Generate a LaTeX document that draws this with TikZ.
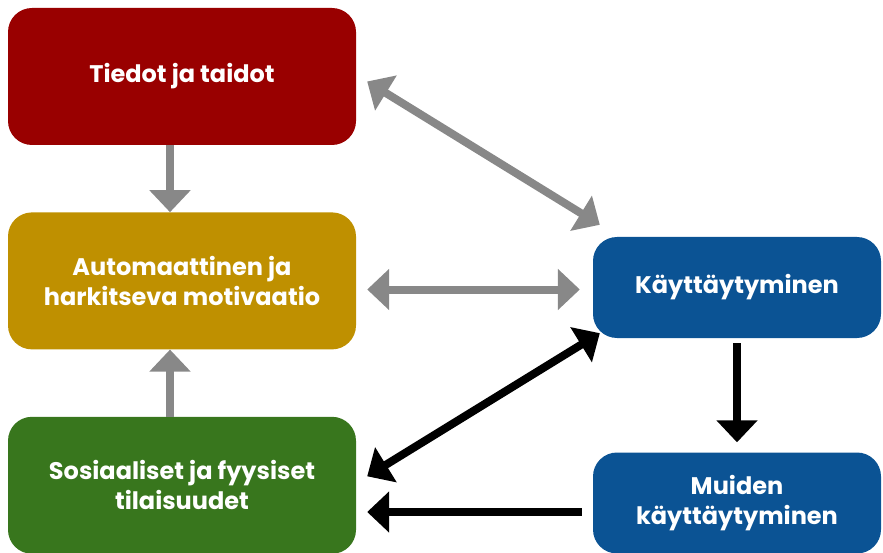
\documentclass[tikz,border=0pt]{standalone}
\usepackage{fontspec}
\setmainfont{Poppins}
\usetikzlibrary{arrows.meta,positioning}
\definecolor{tiedotred}{HTML}{990000}
\definecolor{motigold}{HTML}{BF9000}
\definecolor{sosgreen}{HTML}{38761D}
\definecolor{kaysblue}{HTML}{0B5394}
\definecolor{arrowgray}{HTML}{888888}

\begin{document}
\begin{tikzpicture}[
    x=1pt, y=1pt,
    node distance=67pt,
    every node/.style={font=\bfseries\fontsize{24}{30}\selectfont, align=center, text=white},
    factor/.style={rounded corners=24pt, minimum width=348pt, minimum height=137pt, inner sep=0pt},
    actbox/.style={rounded corners=24pt, minimum width=288pt, minimum height=101pt, inner sep=0pt, fill=kaysblue},
    grayarrow/.style={line width=8pt, arrowgray, -{Triangle[width=40pt, length=22pt]}},
    blackarrow/.style={line width=8pt, black, -{Triangle[width=40pt, length=22pt]}},
    both/.style={{Triangle[width=40pt, length=22pt]}-{Triangle[width=40pt, length=22pt]}}
  ]
    \useasboundingbox (0,0) rectangle (883,-553);

    % Factors on the left
    \node[factor, fill=tiedotred] (tiedot) at (182,-76.5) {Tiedot ja taidot};
    \node[factor, fill=motigold, below=of tiedot] (motivaatio) {Automaattinen ja\\harkitseva motivaatio};
    \node[factor, fill=sosgreen, below=of motivaatio] (tilaisuudet) {Sosiaaliset ja fyysiset\\tilaisuudet};

    % Behaviour on the right
    \node[actbox] (kays) at (737,-287.5) {Käyttäytyminen};
    \node[actbox] (muiden) at (737,-503) {Muiden\\käyttäytyminen};

    % Gray connections
    \draw[grayarrow] ([xshift=-12pt]tiedot.south) -- ([xshift=-12pt]motivaatio.north);
    \draw[grayarrow] ([xshift=-12pt]tilaisuudet.north) -- ([xshift=-12pt]motivaatio.south);
    \draw[grayarrow, both, shorten <=11pt, shorten >=13pt]
      ([yshift=-2pt]motivaatio.east |- kays.west) -- ([yshift=-2pt]kays.west);
    \draw[grayarrow, both]
      ([xshift=11pt,yshift=-5pt]tiedot.east) -- ([xshift=7pt,yshift=12pt]kays.north west);

    % Black connections
    \draw[blackarrow, both]
      ([xshift=7pt,yshift=5pt]kays.south west) -- ([xshift=11pt,yshift=9pt]tilaisuudet.east);
    \draw[blackarrow, shorten <=5pt, shorten >=10pt] (kays.south) -- (muiden.north);
    \draw[blackarrow, shorten <=11pt, shorten >=11pt]
      ([yshift=-9pt]muiden.west) -- ([yshift=-9pt]muiden.west -| tilaisuudet.east);

  \end{tikzpicture}
\end{document}
